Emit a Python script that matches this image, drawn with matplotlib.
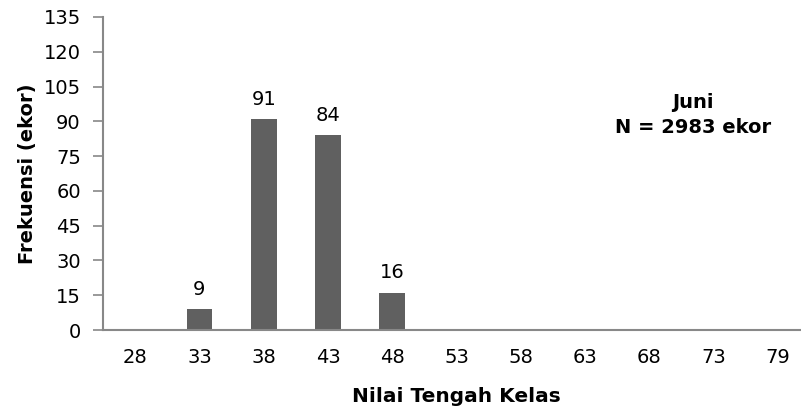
import matplotlib
matplotlib.use("Agg")
import matplotlib.pyplot as plt

plt.rcParams['font.family'] = ['DejaVu Sans']

classes = ["28", "33", "38", "43", "48", "53", "58", "63", "68", "73", "79"]
freq = [0, 9, 91, 84, 16, 0, 0, 0, 0, 0, 0]
yticks = [0, 15, 30, 45, 60, 75, 90, 105, 120, 135]

fig = plt.figure(figsize=(8.01, 4.12), dpi=100)
ax = fig.add_axes([103 / 801, 1 - 330 / 412, 707 / 801, 313 / 412])

x = list(range(len(classes)))
ax.bar(x, freq, width=0.4, color="#606060", zorder=2)
for xi, v in zip(x, freq):
    if v > 0:
        ax.text(xi, v + 4.5, str(v), ha="center", va="bottom", fontsize=14, color="black")

ax.set_xlim(-0.5, len(classes) - 0.5)
ax.set_ylim(0, 135)
ax.set_yticks(yticks)
ax.set_xticks(x)
ax.set_xticklabels(classes)
ax.tick_params(axis="y", length=7, width=1.2, color="#888888", labelsize=14, pad=9)
ax.tick_params(axis="x", length=0, labelsize=14, pad=13)

for s in ["top", "right"]:
    ax.spines[s].set_visible(False)
for s in ["left", "bottom"]:
    ax.spines[s].set_color("#888888")
    ax.spines[s].set_linewidth(1.5)

ax.set_ylabel("Frekuensi (ekor)", fontsize=14, fontweight="bold", labelpad=5)
ax.set_xlabel("Nilai Tengah Kelas", fontsize=14.5, fontweight="bold", labelpad=14)

ax.text(693 / 801, 1 - 115 / 412, "Juni\nN = 2983 ekor", transform=fig.transFigure,
        ha="center", va="center", fontsize=14, fontweight="bold", linespacing=1.35)

fig.savefig("out.png", dpi=100)
